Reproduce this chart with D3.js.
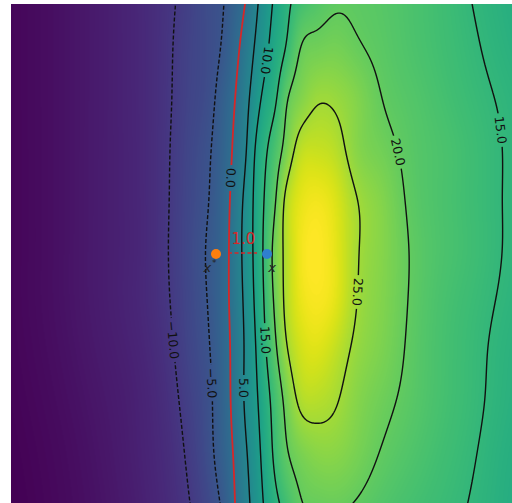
<!DOCTYPE html>
<html>
<head>
<meta charset="utf-8">
<script src="https://cdn.jsdelivr.net/npm/d3@7"></script>
<style>
body { margin: 0; background: #fff; }
svg { display: block; font-family: "DejaVu Sans", sans-serif; }
</style>
</head>
<body>
<div id="chart"></div>
<script>
// Window and plot frame
const W = 512, H = 503;
const frame = {left: 11, top: 4, right: 530, bottom: 510};

// Field: sample columns (x) and rows (y), values per row
const colX = [11, 60, 110, 150, 170, 190, 210, 225, 235, 245, 255, 265, 275, 285, 300, 315, 335, 355, 380, 410, 440, 470, 500, 530];
const rowY = [4, 50, 100, 150, 200, 250, 300, 350, 400, 450, 503];
const fieldRows = [
  [-17.5, -16, -14, -12, -10.5, -8.5, -6.4, -4.8, -2.4, 0, 3.8, 7.5, 10.8, 13.6, 16.7, 18.3, 19.6, 19.5, 18.9, 17.8, 16.6, 15.1, 13.8, 12.5],
  [-17.5, -16, -14, -12, -10.3, -8.2, -6.5, -4.0, -1.25, 1.8, 5.4, 8.9, 12.1, 15, 20, 21.2, 21.6, 20.6, 19.3, 18.0, 16.8, 15.5, 14.2, 13.0],
  [-17.5, -16, -14, -12, -10.2, -8, -6.0, -2.5, 0, 3.3, 7.5, 11.5, 14.4, 19, 22.5, 24.5, 24.4, 22.8, 20.2, 18.6, 17.3, 16.0, 14.8, 13.6],
  [-17.5, -16, -14, -12, -10, -7.6, -5.2, -1.9, 0.8, 4.3, 10, 14.2, 17.5, 21.2, 26.8, 27.8, 26.75, 23.3, 21.3, 19.1, 17.8, 16.5, 15.1, 13.9],
  [-17.5, -16, -14, -12, -9.9, -7.4, -4.8, -1.4, 1.7, 6, 10.9, 15.4, 19.6, 25.4, 29.9, 31, 29.4, 25.4, 22.8, 19.5, 17.8, 16.5, 15.1, 13.9],
  [-17.5, -16, -14, -12, -9.8, -7.2, -4.3, -1.2, 2.2, 6.4, 11, 16.1, 21.4, 25.8, 30.8, 32, 30.2, 25.7, 23.0, 19.9, 17.9, 16.6, 15.1, 13.9],
  [-17.5, -16, -14, -12, -10, -7.4, -4.5, -1.1, 1.9, 5.9, 10.5, 15.6, 20.8, 25.6, 30.2, 31.5, 30, 25.4, 22.7, 19.8, 17.6, 16.2, 14.8, 13.6],
  [-17.6, -16.2, -14.3, -12.4, -10.5, -7.8, -5, -1.4, 1.5, 5.4, 9.6, 14.5, 19.1, 23.9, 28.3, 29.5, 27.5, 24.3, 22.2, 19.5, 17.4, 15.9, 14.4, 13.2],
  [-17.8, -16.5, -14.7, -12.8, -11.1, -8.5, -5.5, -1.7, 1.5, 5.4, 8.9, 12.9, 16.9, 20.8, 25.8, 26.6, 25.4, 23.1, 21.1, 19.1, 17.3, 15.8, 14.2, 13],
  [-18, -16.8, -15, -13, -11.6, -9.2, -5.8, -2.2, 0.7, 4.3, 7.9, 11.9, 16, 19.3, 22, 23.2, 23.3, 22, 20, 18.3, 16.8, 15.4, 13.8, 12.6],
  [-18.2, -17, -15.3, -13.3, -12, -10, -7.0, -3.6, 0, 3.3, 6.9, 10.6, 13.8, 16.4, 19.7, 20.4, 20.6, 19.9, 18.5, 17.2, 16.1, 14.9, 13.5, 12.3]
];

const levels = [-10, -5, 0, 5, 10, 15, 20, 25];
// where each contour carries its inline label (near these points)
const labelLevel = [-10, -5, 0, 5, 10, 15, 15, 20, 25];
const labelNearX = [172, 212, 229, 245, 265, 265, 502, 398, 357];
const labelNearY = [340, 383, 178, 388, 60, 340, 130, 152, 292];

// the two points and the distance marker
const pointNames = ["xstar", "xhat"];
const pointX = [216, 267];
const pointY = [254, 254];
const pointColor = ["#ff7f0e", "#2f7fcf"];
const distFrom = 228, distTo = 257, distY = 253, distLabel = "1.0";

// scales (field units are the picture's own units)
const x = d3.scaleLinear().domain([11, 530]).range([11, 530]);
const y = d3.scaleLinear().domain([4, 503]).range([4, 503]);

// natural cubic spline through uneven knots
function spline(xs, ys) {
  const n = xs.length, h = [], M = new Array(n).fill(0);
  for (let i = 0; i < n - 1; i++) h[i] = xs[i+1] - xs[i];
  const a = [], b = [], c = [], r = [];
  for (let i = 1; i < n - 1; i++) {
    a.push(h[i-1]); b.push(2 * (h[i-1] + h[i])); c.push(h[i]);
    r.push(6 * ((ys[i+1] - ys[i]) / h[i] - (ys[i] - ys[i-1]) / h[i-1]));
  }
  const m = b.length;
  for (let i = 1; i < m; i++) {
    const w = a[i] / b[i-1];
    b[i] -= w * c[i-1]; r[i] -= w * r[i-1];
  }
  const sol = new Array(m);
  sol[m-1] = r[m-1] / b[m-1];
  for (let i = m - 2; i >= 0; i--) sol[i] = (r[i] - c[i] * sol[i+1]) / b[i];
  for (let i = 0; i < m; i++) M[i+1] = sol[i];
  return v => {
    if (v <= xs[0]) return ys[0];
    if (v >= xs[n-1]) return ys[n-1];
    const i = Math.min(n - 2, d3.bisectRight(xs, v) - 1);
    const A = (xs[i+1] - v) / h[i], B = (v - xs[i]) / h[i];
    return A * ys[i] + B * ys[i+1] + ((A*A*A - A) * M[i] + (B*B*B - B) * M[i+1]) * h[i] * h[i] / 6;
  };
}

// fine grid, 1px, a bit larger than the frame so edge rings fall outside the clip
const gx0 = 5, gy0 = -2, nx = 532, ny = 514;
const rowFns = fieldRows.map(r => spline(colX, r));
const rowsFine = rowFns.map(f => d3.range(nx).map(i => f(x.invert(gx0 + i))));
const values = new Float64Array(nx * ny);
for (let i = 0; i < nx; i++) {
  const f = spline(rowY, rowsFine.map(r => r[i]));
  for (let j = 0; j < ny; j++) values[j * nx + i] = f(y.invert(gy0 + j));
}

const color = d3.scaleSequential(d3.interpolateViridis).domain(d3.extent(values));

const svg = d3.select("#chart").append("svg").attr("width", W).attr("height", H);
const defs = svg.append("defs");
defs.append("clipPath").attr("id", "clip")
  .append("rect").attr("x", frame.left).attr("y", frame.top)
  .attr("width", frame.right - frame.left).attr("height", frame.bottom - frame.top);

// background raster
const canvas = document.createElement("canvas");
canvas.width = nx; canvas.height = ny;
const ctx = canvas.getContext("2d");
const img = ctx.createImageData(nx, ny);
for (let k = 0; k < nx * ny; k++) {
  const c = d3.rgb(color(values[k]));
  img.data[4*k] = c.r; img.data[4*k+1] = c.g; img.data[4*k+2] = c.b; img.data[4*k+3] = 255;
}
ctx.putImageData(img, 0, 0);

const g = svg.append("g").attr("clip-path", "url(#clip)");
g.append("image")
  .attr("x", gx0 - 0.5).attr("y", gy0 - 0.5)
  .attr("width", nx).attr("height", ny)
  .attr("href", canvas.toDataURL());

// contours
const contours = d3.contours().size([nx, ny]).thresholds(levels)(Array.from(values));
const path = d3.geoPath(d3.geoIdentity().translate([gx0 - 0.5, gy0 - 0.5]));

// labels first so that their size can make the line gaps
const labels = g.append("g");
const gaps = [];
labelLevel.forEach((lv, idx) => {
  const c = contours.find(d => d.value === lv);
  const px = x(labelNearX[idx]), py = y(labelNearY[idx]);
  let best = null, bestD = Infinity;
  c.coordinates.forEach(poly => poly.forEach(ring => {
    ring.forEach((p, k) => {
      const qx = p[0] + gx0 - 0.5, qy = p[1] + gy0 - 0.5;
      const dd = (qx - px) ** 2 + (qy - py) ** 2;
      if (dd < bestD) { bestD = dd; best = {ring, k, qx, qy}; }
    });
  }));
  const r = best.ring, n = r.length;
  const a = r[(best.k - 4 + n) % n], b = r[(best.k + 4) % n];
  let dx = b[0] - a[0], dy = b[1] - a[1];
  if (dy < 0) { dx = -dx; dy = -dy; }
  const ang = Math.atan2(dy, dx) * 180 / Math.PI;
  const t = labels.append("text")
    .attr("transform", `translate(${best.qx},${best.qy}) rotate(${ang})`)
    .attr("text-anchor", "middle")
    .attr("dy", "0.36em")
    .attr("font-size", 12.5)
    .attr("fill", "#111")
    .text(d3.format(".1f")(lv));
  gaps.push({x: best.qx, y: best.qy, ang, len: t.node().getComputedTextLength()});
});

const mask = defs.append("mask").attr("id", "gaps").attr("maskUnits", "userSpaceOnUse")
  .attr("x", 0).attr("y", 0).attr("width", W + 40).attr("height", H + 40);
mask.append("rect").attr("x", 0).attr("y", 0).attr("width", W + 40).attr("height", H + 40).attr("fill", "white");
mask.selectAll("rect.gap").data(gaps).join("rect").attr("class", "gap")
  .attr("x", d => -d.len / 2 - 3).attr("y", -6)
  .attr("width", d => d.len + 6).attr("height", 12)
  .attr("transform", d => `translate(${d.x},${d.y}) rotate(${d.ang})`)
  .attr("fill", "black");

g.append("g").attr("mask", "url(#gaps)")
  .selectAll("path").data(contours).join("path")
  .attr("d", path)
  .attr("fill", "none")
  .attr("stroke", d => d.value === 0 ? "#d62728" : "#111")
  .attr("stroke-width", d => d.value === 0 ? 1.8 : 1.4)
  .attr("stroke-dasharray", d => d.value < 0 ? "4,2" : "none");

labels.raise();

// distance marker between boundary and the blue point
g.append("line")
  .attr("x1", x(distFrom)).attr("x2", x(distTo))
  .attr("y1", y(distY)).attr("y2", y(distY))
  .attr("stroke", "#d62728").attr("stroke-width", 1.5)
  .attr("stroke-dasharray", "4,2.5");
g.append("text")
  .attr("x", x((distFrom + distTo) / 2) + 1).attr("y", y(distY) - 9)
  .attr("text-anchor", "middle").attr("font-size", 15)
  .attr("fill", "#d62728").text(distLabel);

// points
g.selectAll("circle.pt").data(pointNames).join("circle").attr("class", "pt")
  .attr("cx", (d, i) => x(pointX[i])).attr("cy", (d, i) => y(pointY[i]))
  .attr("r", 5).attr("fill", (d, i) => pointColor[i]);

const starLab = g.append("text")
  .attr("x", x(pointX[0]) - 6).attr("y", y(pointY[0]) + 18)
  .attr("text-anchor", "middle").attr("font-size", 13)
  .attr("font-style", "italic").attr("fill", "#222");
starLab.append("tspan").text("x");
starLab.append("tspan").attr("font-size", 9).attr("dy", -6).attr("dx", 1).text("*");

g.append("text")
  .attr("x", x(pointX[1]) + 5).attr("y", y(pointY[1]) + 18)
  .attr("text-anchor", "middle").attr("font-size", 13)
  .attr("font-style", "italic").attr("fill", "#222").text("x");
</script>
</body>
</html>
